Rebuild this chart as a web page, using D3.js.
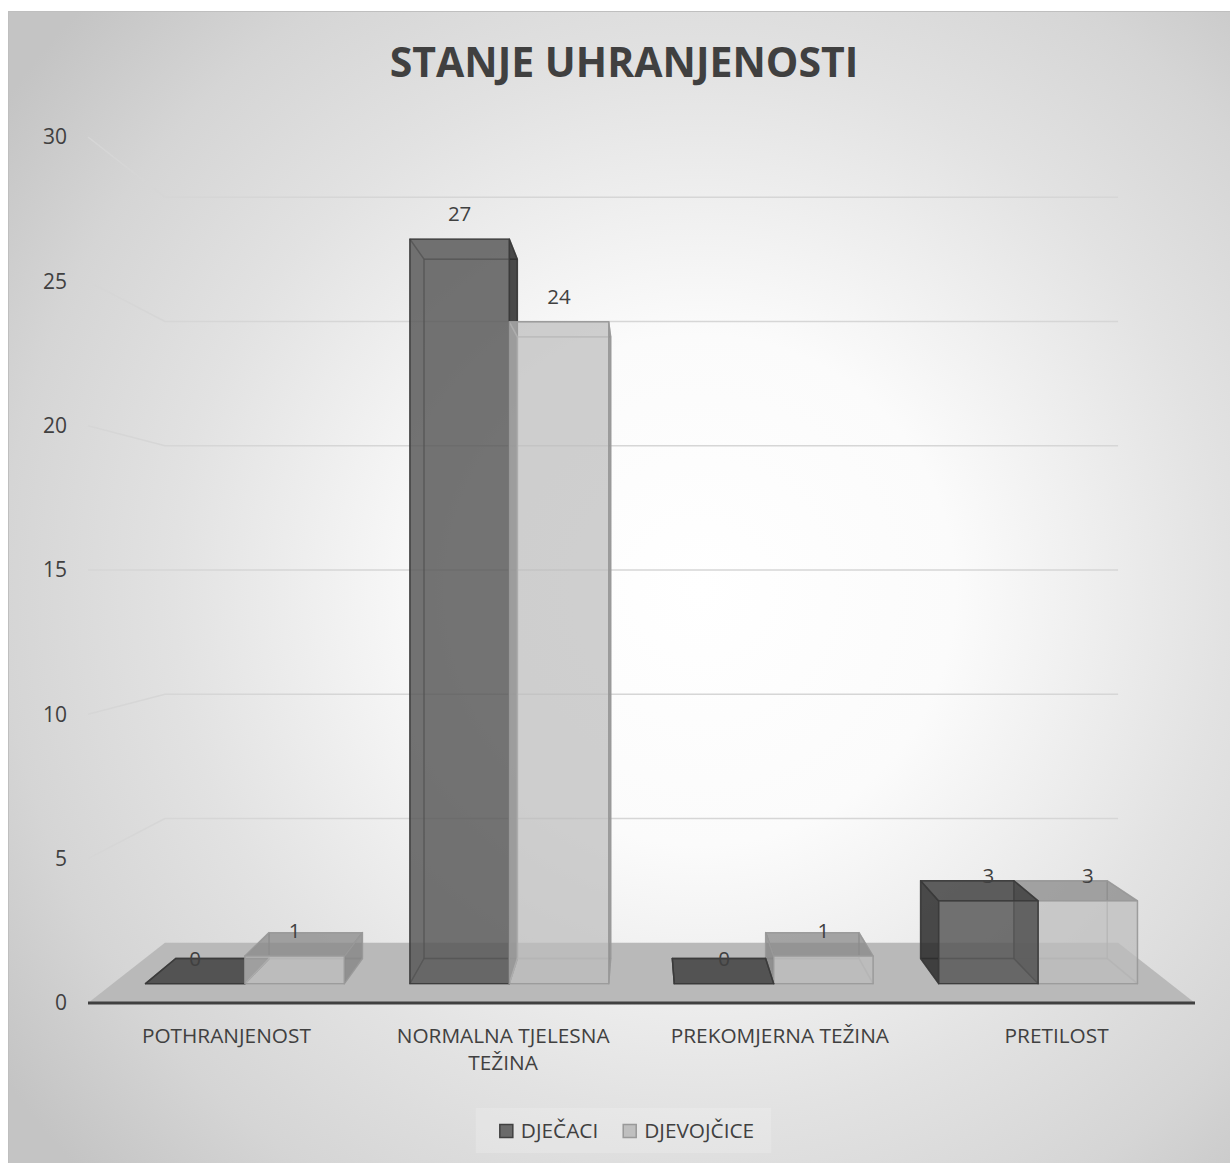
<!DOCTYPE html>
<html>
<head>
<meta charset="utf-8">
<title>Stanje uhranjenosti</title>
<script src="https://cdn.jsdelivr.net/npm/d3@7"></script>
<style>
    body { margin: 0; background: #fff; }
    svg { display: block; }
    text { font-family: "Open Sans", sans-serif; fill: #404040; }
</style>
</head>
<body>
<svg id="chart" width="1230" height="1163"></svg>
<script>
const categories = ["POTHRANJENOST", "NORMALNA TJELESNA TEŽINA", "PREKOMJERNA TEŽINA", "PRETILOST"];
const series = ["DJEČACI", "DJEVOJČICE"];
const boys = [0, 27, 0, 3];
const girls = [1, 24, 1, 3];
const yTicks = [0, 5, 10, 15, 20, 25, 30];
const title = "STANJE UHRANJENOSTI";

const values = { "DJEČACI": boys, "DJEVOJČICE": girls };

// shading per series (face colours are blended with fill-opacity)
const looks = {
    "DJEČACI":    { front: "#575757", top: "#3e3e3e", side: "#262626", edge: "#3a3a3a", opacity: 0.83, key: "#6a6a6a", keyEdge: "#404040" },
    "DJEVOJČICE": { front: "#bcbcbc", top: "#858585", side: "#808080", edge: "#999999", opacity: 0.72, key: "#bfbfbf", keyEdge: "#999999" }
};

const width = 1230, height = 1163;
const svg = d3.select("#chart");

// background
const grad = svg.append("defs").append("radialGradient")
    .attr("id", "bg")
    .attr("gradientUnits", "userSpaceOnUse")
    .attr("cx", 700).attr("cy", 590).attr("r", 850);
[[0, "#ffffff"], [0.3, "#fbfbfb"], [0.62, "#e2e2e2"], [0.82, "#d5d5d5"], [1, "#c4c4c4"]]
    .forEach(([o, c]) => grad.append("stop").attr("offset", o).attr("stop-color", c));

svg.append("rect")
    .attr("x", 8.5).attr("y", 11.5)
    .attr("width", width).attr("height", height)
    .attr("fill", "url(#bg)")
    .attr("stroke", "#bfbfbf");

// scales on the front plane of the 3d box
const x0 = d3.scaleBand().domain(categories).range([88, 1195]);
const x1 = d3.scaleBand().domain(series).range([0, x0.bandwidth()]).paddingOuter(0.33);
const y = d3.scaleLinear().domain([0, 30]).range([1003, 137]);
const depth = d3.scaleLinear().domain([0, 1]).range([0, 0.1614]);

// perspective centre
const cx = (88 + 1195) / 2, cy = y(15);

function project(X, Y, Z) {
    const s = 1 / (1 + depth(Z));
    return [cx + (X - cx) * s, cy + (Y - cy) * s];
}

const line = d3.line();
const [xMin, xMax] = x0.range();

// gridlines: side wall + back wall
svg.append("g")
    .attr("fill", "none")
    .attr("stroke", "#d6d6d6")
    .attr("stroke-width", 1.5)
    .selectAll("path")
    .data(yTicks.filter(t => t > 0))
    .join("path")
    .attr("d", t => line([project(xMin, y(t), 0), project(xMin, y(t), 1), project(xMax, y(t), 1)]));

// floor
svg.append("path")
    .attr("d", line([project(xMin, y(0), 0), project(xMax, y(0), 0), project(xMax, y(0), 1), project(xMin, y(0), 1)]) + "Z")
    .attr("fill", "#b9b9b9");

svg.append("line")
    .attr("x1", xMin).attr("x2", xMax)
    .attr("y1", y(0)).attr("y2", y(0))
    .attr("stroke", "#404040")
    .attr("stroke-width", 3);

// value axis labels
svg.append("g")
    .attr("transform", "translate(67,0)")
    .call(d3.axisLeft(y).tickValues(yTicks).tickSize(0).tickPadding(0))
    .attr("font-size", 21)
    .call(g => g.select(".domain").remove());

// category labels
svg.append("g")
    .attr("transform", `translate(0,${y(0)})`)
    .call(d3.axisBottom(x0).tickSize(0).tickPadding(25))
    .attr("font-size", 20.8)
    .call(g => g.select(".domain").remove())
    .selectAll(".tick text")
    .call(wrap, x0.bandwidth());

function wrap(text, maxWidth) {
    text.each(function() {
        const t = d3.select(this);
        const words = t.text().split(/\s+/).reverse();
        const ty = t.attr("y"), dy = parseFloat(t.attr("dy"));
        let current = [], lineNo = 0, word;
        let tspan = t.text(null).append("tspan").attr("x", 0).attr("y", ty).attr("dy", dy + "em");
        while ((word = words.pop())) {
            current.push(word);
            tspan.text(current.join(" "));
            if (tspan.node().getComputedTextLength() > maxWidth && current.length > 1) {
                current.pop();
                tspan.text(current.join(" "));
                current = [word];
                tspan = t.append("tspan").attr("x", 0).attr("y", ty)
                    .attr("dy", (++lineNo * 1.3 + dy) + "em").text(word);
            }
        }
    });
}

// bars as 3d boxes
const zFront = 0.29, zBack = 0.71;
const bars = [];
categories.forEach((c, i) => series.forEach(s => bars.push({ category: c, series: s, value: values[s][i] })));

function box(d) {
    const X0 = x0(d.category) + x1(d.series), X1 = X0 + x1.bandwidth();
    const Y0 = y(0), Y1 = y(d.value);
    const P = (X, Y, Z) => project(X, Y, Z);
    const faces = [
        { pts: [P(X0, Y0, zBack), P(X1, Y0, zBack), P(X1, Y1, zBack), P(X0, Y1, zBack)], visible: false, tone: "front" },
        { pts: [P(X0, Y0, zFront), P(X1, Y0, zFront), P(X1, Y0, zBack), P(X0, Y0, zBack)], visible: Y0 < cy, tone: "top" },
        { pts: [P(X0, Y0, zFront), P(X0, Y1, zFront), P(X0, Y1, zBack), P(X0, Y0, zBack)], visible: X0 > cx, tone: "side" },
        { pts: [P(X1, Y0, zFront), P(X1, Y1, zFront), P(X1, Y1, zBack), P(X1, Y0, zBack)], visible: X1 < cx, tone: "side" },
        { pts: [P(X0, Y1, zFront), P(X1, Y1, zFront), P(X1, Y1, zBack), P(X0, Y1, zBack)], visible: Y1 > cy, tone: "top" },
        { pts: [P(X0, Y0, zFront), P(X1, Y0, zFront), P(X1, Y1, zFront), P(X0, Y1, zFront)], visible: true, tone: "front" }
    ];
    // hidden faces first so their edges show through
    return faces.filter(f => !f.visible).concat(faces.filter(f => f.visible));
}

const mid = d => x0(d.category) + x1(d.series) + x1.bandwidth() / 2;
bars.sort((a, b) => Math.abs(mid(b) - cx) - Math.abs(mid(a) - cx));

svg.append("g")
    .selectAll("g")
    .data(bars)
    .join("g")
    .each(function(d) {
        const look = looks[d.series];
        d3.select(this).selectAll("path")
            .data(box(d))
            .join("path")
            .attr("d", f => line(f.pts) + "Z")
            .attr("fill", f => f.visible ? look[f.tone] : "none")
            .attr("fill-opacity", look.opacity)
            .attr("stroke", look.edge)
            .attr("stroke-opacity", f => f.visible ? 0.9 : 0.5)
            .attr("stroke-width", 1.4)
            .attr("stroke-linejoin", "round");
    });

// data labels
svg.append("g")
    .selectAll("text")
    .data(bars)
    .join("text")
    .attr("x", d => project(mid(d), y(d.value), zFront)[0])
    .attr("y", d => project(mid(d), y(d.value), zFront)[1] - 18)
    .attr("text-anchor", "middle")
    .style("font-size", "20.5px")
    .text(d => d.value);

// title
svg.append("text")
    .attr("x", 624)
    .attr("y", 77)
    .attr("text-anchor", "middle")
    .style("font-size", "41px")
    .style("font-weight", "bold")
    .text(title);

// legend
const legendBox = svg.append("rect")
    .attr("y", 1108).attr("height", 45)
    .attr("fill", "#ffffff")
    .attr("fill-opacity", 0.18);

const legend = svg.append("g");
const items = legend.selectAll("g")
    .data(series)
    .join("g");
items.append("rect")
    .attr("width", 13).attr("height", 13)
    .attr("y", 1124.5)
    .attr("fill", s => looks[s].key)
    .attr("stroke", s => looks[s].keyEdge)
    .attr("stroke-width", 1.5);
items.append("text")
    .attr("x", 21)
    .attr("y", 1138)
    .style("font-size", "20.8px")
    .text(s => s);

let offset = 0;
items.each(function() {
    d3.select(this).attr("transform", `translate(${offset},0)`);
    offset += 21 + d3.select(this).select("text").node().getComputedTextLength() + 25;
});
const legendWidth = offset - 25;
const legendLeft = 627 - legendWidth / 2;
legend.attr("transform", `translate(${legendLeft},0)`);
legendBox.attr("x", legendLeft - 24).attr("width", legendWidth + 41);
</script>
</body>
</html>
